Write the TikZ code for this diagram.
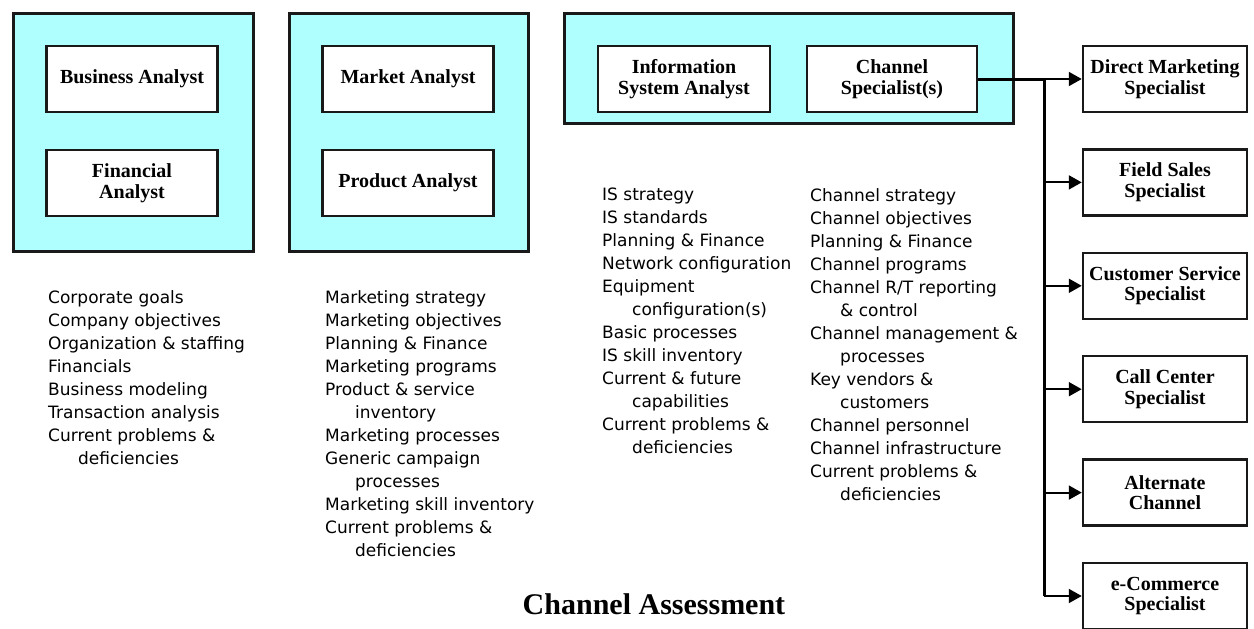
\documentclass[tikz,border=0pt]{standalone}
\usepackage{fontspec}
\setmainfont{Liberation Serif}
\newfontfamily\listfont{DejaVu Sans}
\usetikzlibrary{arrows.meta,positioning}

\definecolor{panelcyan}{RGB}{175,255,255}
\newcommand{\more}{\hspace*{30pt}}

\begin{document}
\begin{tikzpicture}[x=1pt, y=-1pt,
		panel/.style={draw=black!90, line width=2.5pt, fill=panelcyan, anchor=north west, inner sep=0pt},
		role/.style={draw=black!90, line width=2.5pt, fill=white, minimum width=171pt, minimum height=66pt,
			align=center, inner sep=2pt, font=\fontsize{20}{20.5}\selectfont\bfseries},
		spec/.style={role, minimum width=164pt},
		notes/.style={anchor=north west, align=left, inner sep=0pt, font=\listfont\fontsize{17}{23}\selectfont},
		node distance=103.4pt, on grid]
	\useasboundingbox (0,0) rectangle (1254,629);

	\node[panel, minimum width=240pt, minimum height=238pt] (p_bus) at (12,12) {};
	\node[panel, minimum width=239pt, minimum height=238pt] (p_mkt) at (288,12) {};
	\node[panel, minimum width=449pt, minimum height=110pt] (p_chn) at (563,12) {};

	\node[role] (bus) at (132,79) {Business Analyst};
	\node[role] (fin) at (132,183) {Financial\\Analyst};
	\node[role] (mkt) at (408,79) {Market Analyst};
	\node[role] (prd) at (408,183) {Product Analyst};
	\node[role, minimum width=172pt] (isa) at (684,79) {Information\\System Analyst};
	\node[role, minimum width=170pt] (chn) at (892,79) {Channel\\Specialist(s)};

	\node[spec] (dm) at (1165,79) {Direct Marketing\\Specialist};
	\node[spec] (fs) [below=of dm] {Field Sales\\Specialist};
	\node[spec] (cs) [below=of fs] {Customer Service\\Specialist};
	\node[spec] (cc) [below=of cs] {Call Center\\Specialist};
	\node[spec] (alt) [below=of cc] {Alternate\\Channel};
	\node[spec] (ec) [below=of alt] {e-Commerce\\Specialist};

	\coordinate (trunk) at (1044,79);
	\draw[line width=3pt] (chn.east) -- (trunk);
	\draw[line width=3pt] (trunk) -- (trunk |- ec.west);
	\foreach \s in {dm,fs,cs,cc,alt,ec}
		\draw[line width=2pt, -{Triangle[length=13pt,width=14pt]}] (trunk |- \s.west) -- (\s.west);

	% topic lists
	\node[notes] (l_bus) at (48,290) {Corporate goals\\Company objectives\\Organization \& staffing\\Financials\\Business modeling\\Transaction analysis\\Current problems \&\\\more deficiencies};
	\node[notes] (l_mkt) at (325,290) {Marketing strategy\\Marketing objectives\\Planning \& Finance\\Marketing programs\\Product \& service\\\more inventory\\Marketing processes\\Generic campaign\\\more processes\\Marketing skill inventory\\Current problems \&\\\more deficiencies};
	\node[notes] (l_isa) at (602,188) {IS strategy\\IS standards\\Planning \& Finance\\Network configuration\\Equipment\\\more configuration(s)\\Basic processes\\IS skill inventory\\Current \& future\\\more capabilities\\Current problems \&\\\more deficiencies};
	\node[notes] (l_chn) at (810,188) {Channel strategy\\Channel objectives\\Planning \& Finance\\Channel programs\\Channel R/T reporting\\\more \& control\\Channel management \&\\\more processes\\Key vendors \&\\\more customers\\Channel personnel\\Channel infrastructure\\Current problems \&\\\more deficiencies};

	\node[font=\fontsize{30}{32}\selectfont\bfseries] (title) at (654,604) {Channel Assessment};
\end{tikzpicture}
\end{document}
